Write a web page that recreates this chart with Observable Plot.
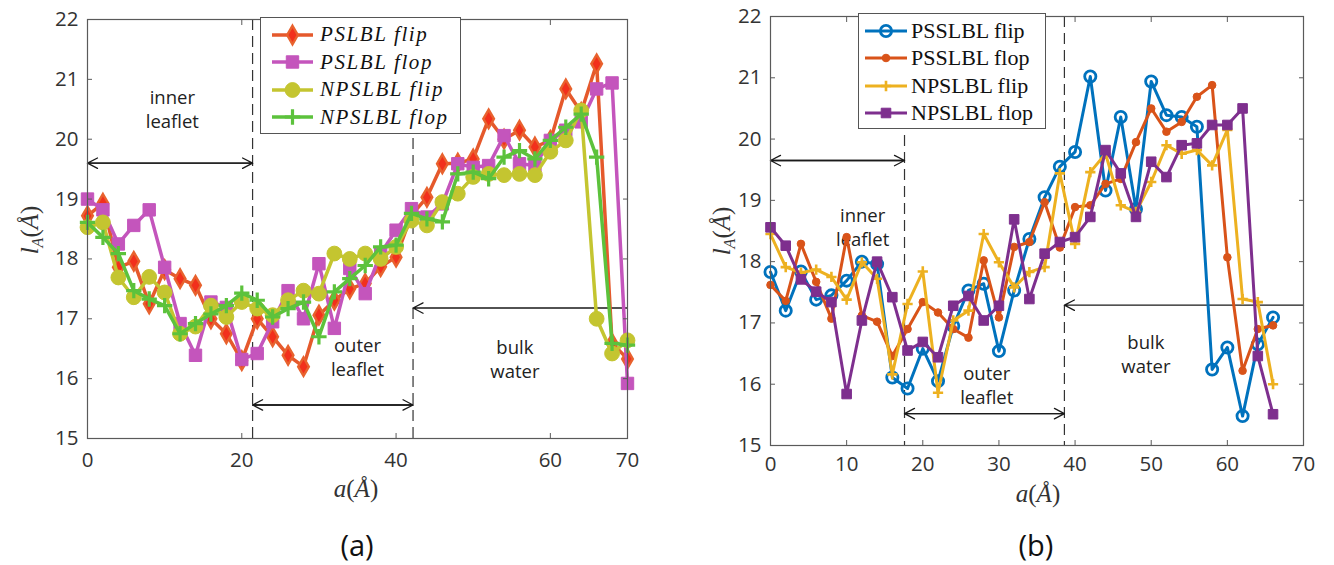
<!DOCTYPE html>
<html><head><meta charset="utf-8">
<script src="https://cdn.jsdelivr.net/npm/d3@7"></script>
<script src="https://cdn.jsdelivr.net/npm/@observablehq/plot@0.6"></script>
<style>
body{margin:0;background:#fff;}
#root{position:relative;width:1334px;height:565px;overflow:hidden;background:#fff;font-family:"Open Sans",sans-serif;}
.panel{position:absolute;top:0;}
.lab{position:absolute;transform:translate(-50%,-50%);font-family:"Liberation Serif",serif;font-size:25px;color:#333;white-space:nowrap;}
.lab i{font-style:italic;}
.lab sub{font-size:16px;font-style:italic;vertical-align:-5px;}
.ylab{transform:translate(-50%,-50%) rotate(-90deg);}
.cap{position:absolute;transform:translate(-50%,-50%);font-family:"Open Sans",sans-serif;font-size:29px;color:#111;}
.legend{position:absolute;background:#fff;border:1px solid #555;box-sizing:border-box;padding-top:3px;}
.legend .row{display:flex;align-items:center;height:27.5px;white-space:nowrap;}
.legend svg{flex:none;}
.legA .txt{font-family:"Liberation Serif",serif;font-style:italic;font-size:21px;letter-spacing:1.6px;color:#111;}
.legB .txt{font-family:"Liberation Serif",serif;font-size:22px;color:#111;}
</style>
</head><body>
<div id="root"></div>
<script>
// ---------- Panel (a) data ----------
const aPos = [0,2,4,6,8,10,12,14,16,18,20,22,24,26,28,30,32,34,36,38,40,42,44,46,48,50,52,54,56,58,60,62,64,66,68,70];
const aPslblFlip = [18.72,18.93,17.86,17.96,17.25,17.82,17.67,17.56,17.0,16.75,16.3,17.0,16.70,16.39,16.2,17.06,17.31,17.5,17.59,17.87,18.03,18.73,19.03,19.59,19.6,19.67,20.34,20.0,20.15,19.87,19.98,20.84,20.45,21.26,16.59,16.33];
const aPslblFlop = [19.0,18.82,18.25,18.56,18.82,17.86,16.92,16.39,17.28,17.19,16.32,16.42,16.95,17.47,17.0,17.92,16.84,17.84,17.42,18.09,18.48,18.84,18.7,18.92,19.59,19.53,19.56,20.06,19.59,19.56,19.98,20.15,20.29,20.84,20.94,15.92];
const aNpslblFlip = [18.53,18.61,17.69,17.36,17.7,17.44,16.75,16.87,17.22,17.03,17.28,17.17,17.06,17.31,17.47,17.42,18.09,18.0,18.09,18.0,18.2,18.64,18.56,18.95,19.09,19.37,19.42,19.4,19.42,19.4,19.79,19.98,20.48,17.0,16.42,16.64];
const aNpslblFlop = [18.61,18.36,18.09,17.47,17.33,17.22,16.75,16.92,17.08,17.22,17.43,17.31,17.03,17.17,17.28,16.7,17.45,17.67,17.89,18.2,18.23,18.76,18.67,18.62,19.42,19.45,19.34,19.7,19.81,19.67,19.98,20.2,20.42,19.7,16.59,16.56];
const aNames = ["PSLBL flip","PSLBL flop","NPSLBL flip","NPSLBL flop"];
const aXTicks = [0,20,40,60,70];
const aYTicks = [15,16,17,18,19,20,21,22];
const aBoundaries = [21.4,42.2];
const aArrows = [
  {x1:0, x2:21.4, y:19.6, both:true},
  {x1:21.4, x2:42.2, y:15.56, both:true},
  {x1:70, x2:42.2, y:17.18, both:false}
];
const aNotes = [
  {x:11.0, y:20.51, text:"inner\nleaflet"},
  {x:35.0, y:16.37, text:"outer\nleaflet"},
  {x:55.4, y:16.34, text:"bulk\nwater"}
];

// ---------- Panel (b) data ----------
const bPos = [0,2,4,6,8,10,12,14,16,18,20,22,24,26,28,30,32,34,36,38,40,42,44,46,48,50,52,54,56,58,60,62,64,66];
const bPsslblFlip = [17.83,17.2,17.84,17.38,17.45,17.69,18.0,17.96,16.11,15.93,16.58,16.05,16.95,17.53,17.64,16.54,17.53,18.37,19.05,19.55,19.79,21.02,19.16,20.36,18.86,20.94,20.39,20.36,20.2,16.24,16.6,15.48,16.65,17.09];
const bPsslblFlop = [17.62,17.36,18.29,17.67,17.07,18.4,17.12,17.02,16.46,16.9,17.34,17.17,16.9,16.76,18.02,17.09,18.24,18.32,18.97,18.23,18.89,18.92,19.27,19.35,19.95,20.5,20.12,20.28,20.69,20.88,18.07,16.22,16.9,16.96];
const bNpslblFlip = [18.45,17.91,17.82,17.87,17.75,17.38,17.99,17.72,16.16,17.31,17.84,15.86,17.04,17.2,18.45,17.99,17.58,17.83,17.91,19.44,18.29,19.46,19.76,18.92,18.81,19.3,19.9,19.76,19.82,19.57,20.15,17.39,17.34,16.0];
const bNpslblFlop = [18.56,18.26,17.71,17.51,17.34,15.84,17.04,18.0,17.42,16.55,16.69,16.44,17.28,17.44,17.04,17.28,18.69,17.39,18.13,18.32,18.4,18.73,19.82,19.44,18.73,19.63,19.38,19.9,19.93,20.23,20.23,20.5,16.46,15.51];
const bNames = ["PSSLBL flip","PSSLBL flop","NPSLBL flip","NPSLBL flop"];
const bXTicks = [0,10,20,30,40,50,60,70];
const bYTicks = [15,16,17,18,19,20,21,22];
const bBoundaries = [17.6,38.6];
const bArrows = [
  {x1:0, x2:17.6, y:19.65, both:true},
  {x1:17.6, x2:38.6, y:15.52, both:true},
  {x1:70, x2:38.6, y:17.29, both:false}
];
const bNotes = [
  {x:12.1, y:18.58, text:"inner\nleaflet"},
  {x:28.4, y:16.0, text:"outer\nleaflet"},
  {x:49.3, y:16.51, text:"bulk\nwater"}
];

// ---------- styles ----------
const aStyles = [
  {line:"#E5592C", symbol:"diamond", r:5.6, fill:"#F2301C", stroke:"#E8622E", sw:2.4, lw:3.5},
  {line:"#C455BC", symbol:"square", r:7.0, fill:"#C455BC", stroke:"#C455BC", sw:1, lw:3.5},
  {line:"#C4C530", symbol:"circle", r:7.4, fill:"#C4C530", stroke:"#C4C530", sw:1, lw:3.5},
  {line:"#5CC23C", symbol:"plus", r:5.0, fill:"none", stroke:"#5CC23C", sw:3.2, lw:3.5}
];
const bStyles = [
  {line:"#0072BD", symbol:"circle", r:5.6, fill:"none", stroke:"#0072BD", sw:2.8, lw:3},
  {line:"#D95319", symbol:"circle", r:3.8, fill:"#D95319", stroke:"#D95319", sw:1, lw:3},
  {line:"#EDB120", symbol:"plus", r:3.4, fill:"none", stroke:"#EDB120", sw:2.6, lw:3},
  {line:"#7E2F8E", symbol:"square", r:5.4, fill:"#7E2F8E", stroke:"#7E2F8E", sw:1, lw:3}
];

const AX = "#5a5a5a";
function panel({pos, series, styles, xTicks, yTicks, boundaries, arrows, notes, width, height, margins}) {
  const marks = [
    Plot.ruleX(boundaries, {stroke:"#333", strokeWidth:1.2, strokeDasharray:"11,6"}),
    Plot.arrow(arrows, {x1:"x1", x2:"x2", y1:"y", y2:"y", stroke:"#1a1a1a", strokeWidth:1.3, headLength:13, headAngle:55}),
    Plot.arrow(arrows.filter(d => d.both), {x1:"x2", x2:"x1", y1:"y", y2:"y", stroke:"#1a1a1a", strokeWidth:1.3, headLength:13, headAngle:55}),
    Plot.text(notes, {x:"x", y:"y", text:"text", fontSize:18.5, lineHeight:1.3, fill:"#222", fontFamily:"'Open Sans'"})
  ];
  series.forEach((vals, k) => {
    const s = styles[k];
    marks.push(Plot.line(vals, {x:(d,i) => pos[i], y:d => d, stroke:s.line, strokeWidth:s.lw, strokeLinejoin:"round"}));
    marks.push(Plot.dot(vals, {x:(d,i) => pos[i], y:d => d, symbol:s.symbol, r:s.r, fill:s.fill, stroke:s.stroke, strokeWidth:s.sw}));
  });
  marks.push(
    Plot.frame({stroke:AX, strokeWidth:1.2}),
    Plot.axisX(xTicks, {anchor:"bottom", tickSize:5, dy:-5, tickFormat:() => "", label:null, stroke:AX}),
    Plot.axisX(xTicks, {anchor:"top", tickSize:5, dy:5, tickFormat:() => "", label:null, stroke:AX}),
    Plot.axisY(yTicks, {anchor:"left", tickSize:5, dx:5, tickFormat:() => "", label:null, stroke:AX}),
    Plot.axisY(yTicks, {anchor:"right", tickSize:5, dx:-5, tickFormat:() => "", label:null, stroke:AX}),
    Plot.axisX(xTicks, {anchor:"bottom", tickSize:0, tickPadding:margins.xpad, label:null, fontSize:20.5, fill:"#333", tickFormat:d => String(d)}),
    Plot.axisY(yTicks, {anchor:"left", tickSize:0, tickPadding:9, label:null, fontSize:20.5, fill:"#333", tickFormat:d => String(d)})
  );
  return Plot.plot({
    width, height,
    marginLeft:margins.left, marginRight:margins.right, marginTop:margins.top, marginBottom:margins.bottom,
    x:{domain:[0,70]}, y:{domain:[15,22]},
    style:{fontFamily:"'Open Sans'", fontSize:"20px", background:"transparent", overflow:"visible"},
    marks
  });
}

const root = document.getElementById("root");
function place(el, left) { el.classList.add("panel"); el.style.left = left + "px"; root.appendChild(el); }

place(panel({pos:aPos, series:[aPslblFlip,aPslblFlop,aNpslblFlip,aNpslblFlop], styles:aStyles,
  xTicks:aXTicks, yTicks:aYTicks, boundaries:aBoundaries, arrows:aArrows, notes:aNotes,
  width:650, height:520, margins:{left:87, right:23, top:19, bottom:82, xpad:14}}), 0);
place(panel({pos:bPos, series:[bPsslblFlip,bPsslblFlop,bNpslblFlip,bNpslblFlop], styles:bStyles,
  xTicks:bXTicks, yTicks:bYTicks, boundaries:bBoundaries, arrows:bArrows, notes:bNotes,
  width:654, height:520, margins:{left:90, right:31, top:16, bottom:75, xpad:11}}), 680);

// ---------- labels ----------
function addHTML(cls, html, x, y) {
  const d = document.createElement("div");
  d.className = cls; d.innerHTML = html; d.style.left = x + "px"; d.style.top = y + "px";
  root.appendChild(d);
}
const yLab = "<i>l</i><sub>A</sub>(<i>Å</i>)";
const xLab = "<i>a</i>(<i>Å</i>)";
addHTML("lab ylab", yLab, 31, 230);
addHTML("lab", xLab, 356, 489);
addHTML("cap", "(a)", 357, 544);
addHTML("lab ylab", yLab, 723, 231);
addHTML("lab", xLab, 1038, 494);
addHTML("cap", "(b)", 1036, 544);

// ---------- legends ----------
const symMap = {diamond:d3.symbolDiamond, square:d3.symbolSquare, circle:d3.symbolCircle, plus:(d3.symbolPlus || d3.symbolCross)};
function legend(cls, names, styles, box, lineLen) {
  const L = document.createElement("div");
  L.className = "legend " + cls;
  Object.assign(L.style, {left:box.left+"px", top:box.top+"px", width:box.width+"px", height:box.height+"px"});
  names.forEach((name, k) => {
    const s = styles[k];
    const row = document.createElement("div"); row.className = "row";
    const w = box.pad + lineLen + box.gap, h = 24;
    const path = d3.symbol(symMap[s.symbol], s.r * s.r * Math.PI)();
    row.innerHTML = `<svg width="${w}" height="${h}"><line x1="${box.pad}" x2="${box.pad+lineLen}" y1="${h/2}" y2="${h/2}" stroke="${s.line}" stroke-width="${s.lw}"/>` +
      `<path d="${path}" transform="translate(${box.pad+lineLen/2},${h/2})" fill="${s.fill}" stroke="${s.stroke}" stroke-width="${s.sw}"/></svg>` +
      `<span class="txt">${name}</span>`;
    L.appendChild(row);
  });
  root.appendChild(L);
}
legend("legA", aNames, aStyles, {left:260, top:17, width:201, height:117, pad:11, gap:7}, 41);
legend("legB", bNames, bStyles, {left:858, top:13, width:188, height:116, pad:6, gap:4}, 42);
</script>
</body></html>
